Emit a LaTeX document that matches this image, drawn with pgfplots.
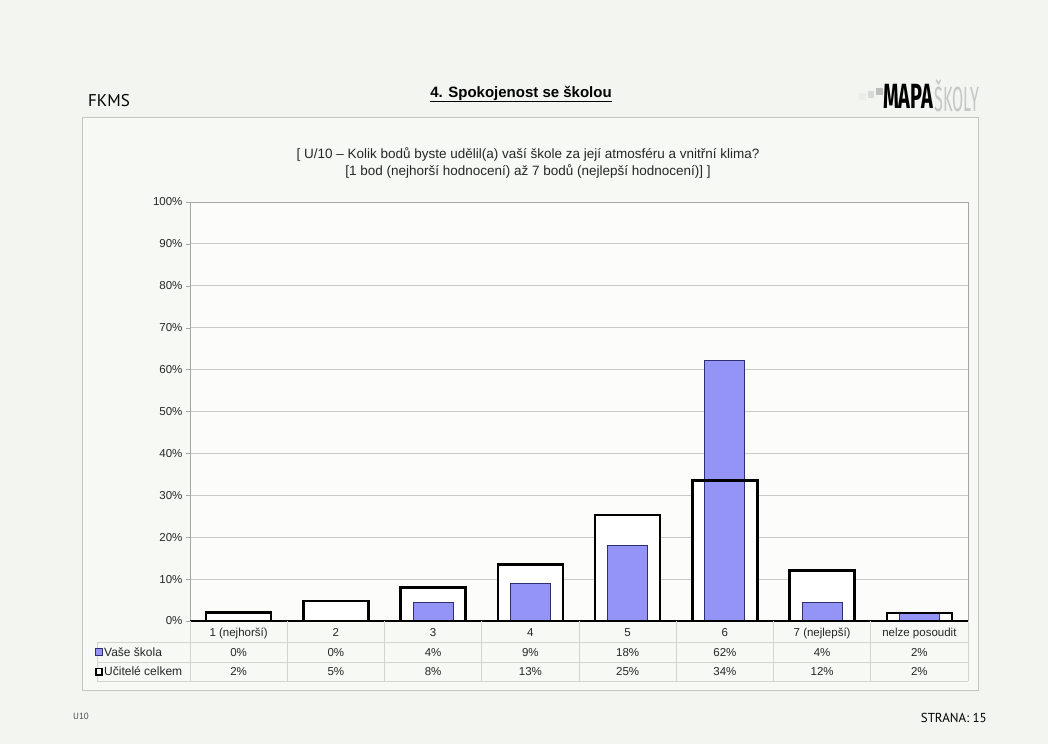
\documentclass[border=0pt]{standalone}
\usepackage{fontspec}
\setmainfont{Liberation Sans}
\newfontfamily\narrowfont{PT Sans}
\newfontfamily\logofont{Fira Sans}
\usepackage{pgfplots}
\pgfplotsset{compat=1.18}

\definecolor{pagebg}{HTML}{F3F5F1}
\definecolor{boxbg}{HTML}{F7F9F5}
\definecolor{boxline}{HTML}{C4C6C2}
\definecolor{gridc}{HTML}{C8CAC6}
\definecolor{vase}{HTML}{9494F6}
\definecolor{vaseline}{HTML}{2E2E70}
\definecolor{tabline}{HTML}{D2D4D0}

\begin{document}
\begin{tikzpicture}[x=1pt,y=1pt]
% page and chart frame
\fill[pagebg] (0,0) rectangle (1048,744);
\filldraw[fill=boxbg,draw=boxline,line width=1pt] (82,54) rectangle (978,626);

% header texts
\node[font=\narrowfont\fontsize{17}{20}\selectfont,anchor=west,inner sep=0pt] at (88,643) {FKMS};
\node[font=\bfseries\fontsize{15}{18}\selectfont] at (521,650) {\underline{4. Spokojenost se školou}};
\fill[gray!15] (859,644) rectangle (866,651);
\fill[gray!30] (868,646) rectangle (874,653);
\fill[gray!50] (876,649) rectangle (883,656);
\node[font=\logofont\bfseries\fontsize{35}{38}\selectfont,anchor=west,inner sep=0pt] (mapa) at (883,648) {\scalebox{0.57}[1]{MAPA}};
\node[font=\logofont\fontsize{35}{38}\selectfont,text=gray!45,anchor=west,inner sep=0pt] at ([xshift=1pt]mapa.east) {\scalebox{0.46}[1]{ŠKOLY}};
\node[font=\fontsize{13.5}{17}\selectfont,align=center,text=black!85] at (528,581)
  {[ U/10 -- Kolik bodů byste udělil(a) vaší škole za její atmosféru a vnitřní klima?\\\relax
   [1 bod (nejhorší hodnocení) až 7 bodů (nejlepší hodnocení)] ]};

% footer
\node[font=\narrowfont\fontsize{9}{10}\selectfont,anchor=west,inner sep=0pt,text=black!70] at (73,28) {U10};
\node[font=\narrowfont\fontsize{13}{15}\selectfont,anchor=east,inner sep=0pt] at (987,26) {STRANA: 15};

\begin{axis}[
    at={(190pt,123pt)}, anchor=south west,
    scale only axis, width=778pt, height=419pt,
    xmin=-0.5, xmax=7.5, ymin=0, ymax=100,
    xtick=\empty,
    ytick={0,10,...,100},
    yticklabel={\pgfmathprintnumber{\tick}\%},
    /pgf/number format/assume math mode=true,
    yticklabel style={font=\fontsize{11.5}{13}\selectfont, text=black!85},
    ytick pos=left, tick align=outside, major tick length=4pt,
    tick style={gray!70},
    ymajorgrids, grid style={gridc, line width=0.9pt},
    axis line style={gray!70, line width=0.8pt},
    axis background/.style={fill=white!60!boxbg},
    ybar, bar shift=0pt,
    clip=false,
]
% Učitelé celkem (white fill underneath)
\addplot[fill=white, draw=none, bar width=65pt] coordinates {
  (0,2) (1,4.8) (2,8) (3,13.5) (4,25.3) (5,33.5) (6,12) (7,1.9)};
% Vaše škola
\addplot[fill=vase, draw=vaseline, line width=0.9pt, bar width=40pt] coordinates {
  (0,0) (1,0) (2,4.5) (3,9) (4,18) (5,62.1) (6,4.4) (7,2.1)};
% Učitelé celkem (outline on top)
\addplot[fill=none, draw=black, line width=2.6pt, bar width=65pt] coordinates {
  (0,2) (1,4.8) (2,8) (3,13.5) (4,25.3) (5,33.5) (6,12) (7,1.9)};
\draw[black, line width=1.6pt] (axis cs:-0.5,0) -- (axis cs:7.5,0);
\end{axis}

% data table under the axis
\foreach \yy in {102,82,63} \draw[tabline, line width=0.8pt] (97,\yy) -- (968,\yy);
\foreach \i in {0,...,8} \draw[tabline, line width=0.8pt] ({190+\i*97.25},123) -- ({190+\i*97.25},63);
\draw[tabline, line width=0.8pt] (97,102) -- (97,63);
\foreach \lab [count=\i from 0] in {1 (nejhorší),2,3,4,5,6,7 (nejlepší),nelze posoudit}
  \node[font=\fontsize{11.5}{13}\selectfont,text=black!85,anchor=base,inner sep=0pt] at ({190+(\i+0.5)*97.25},108) {\lab};
\foreach \lab [count=\i from 0] in {0\%,0\%,4\%,9\%,18\%,62\%,4\%,2\%}
  \node[font=\fontsize{11.5}{13}\selectfont,text=black!85,anchor=base,inner sep=0pt] at ({190+(\i+0.5)*97.25},88) {\lab};
\foreach \lab [count=\i from 0] in {2\%,5\%,8\%,13\%,25\%,34\%,12\%,2\%}
  \node[font=\fontsize{11.5}{13}\selectfont,text=black!85,anchor=base,inner sep=0pt] at ({190+(\i+0.5)*97.25},68.5) {\lab};
\filldraw[fill=vase,draw=vaseline,line width=0.7pt] (95.5,88.5) rectangle (102.5,95.5);
\node[font=\fontsize{12}{13}\selectfont,anchor=base west,inner sep=1pt,text=black!85] at (103,88) {Vaše škola};
\filldraw[fill=white,draw=black,line width=1.6pt] (96,69) rectangle (102,75.5);
\node[font=\fontsize{12}{13}\selectfont,anchor=base west,inner sep=1pt,text=black!85] at (103,68.5) {Učitelé celkem};
\end{tikzpicture}
\end{document}
